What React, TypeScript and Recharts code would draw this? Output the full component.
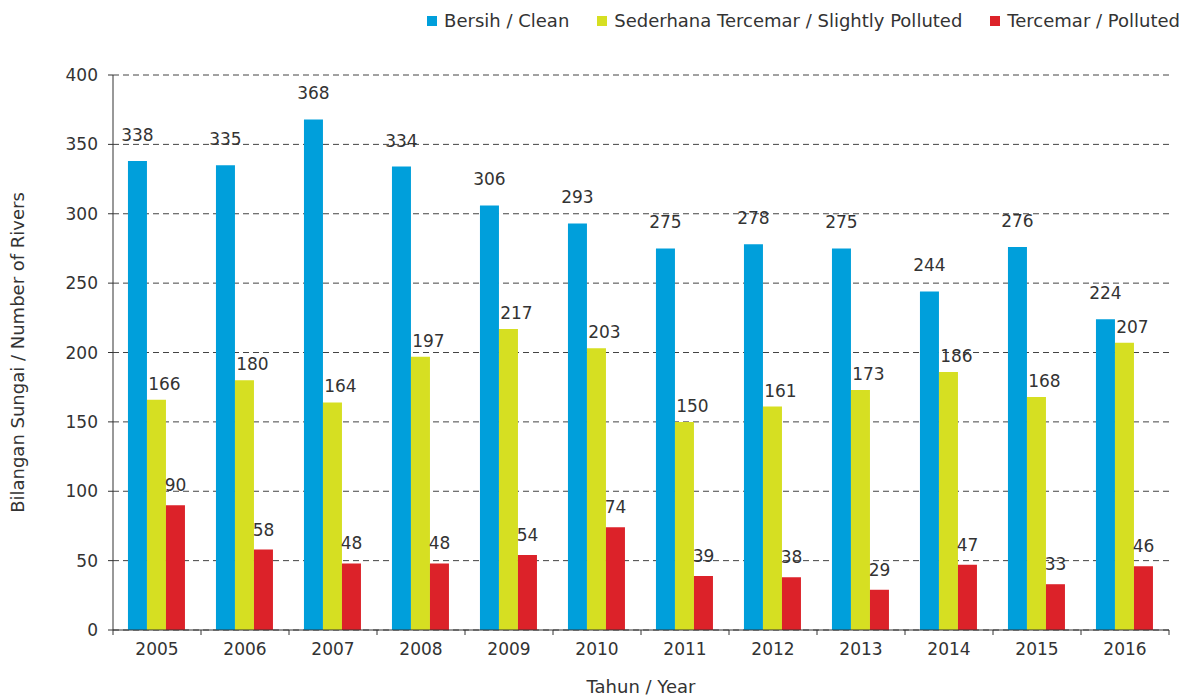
import { Bar, BarChart, CartesianGrid, LabelList, XAxis, YAxis } from "recharts";

const years = ["2005", "2006", "2007", "2008", "2009", "2010", "2011", "2012", "2013", "2014", "2015", "2016"];
const clean = [338, 335, 368, 334, 306, 293, 275, 278, 275, 244, 276, 224];
const slightlyPolluted = [166, 180, 164, 197, 217, 203, 150, 161, 173, 186, 168, 207];
const polluted = [90, 58, 48, 48, 54, 74, 39, 38, 29, 47, 33, 46];
const yTicks = [0, 50, 100, 150, 200, 250, 300, 350, 400];

const seriesInfo = [
  { key: "clean", name: "Bersih / Clean", color: "#009fdb", labelOffset: 20, labelDx: 0 },
  { key: "slight", name: "Sederhana Tercemar / Slightly Polluted", color: "#d6df22", labelOffset: 10, labelDx: 8 },
  { key: "polluted", name: "Tercemar / Polluted", color: "#dc2229", labelOffset: 14, labelDx: 0 },
];

const data = years.map((year, i) => ({
  year,
  clean: clean[i],
  slight: slightlyPolluted[i],
  polluted: polluted[i],
}));

const W = 1184;
const H = 697;
const margin = { top: 75, right: 15, bottom: 17, left: 13 };
const yAxisWidth = 100;
const plotWidth = W - margin.left - margin.right - yAxisWidth;
const band = plotWidth / years.length;

const FONT = "'DejaVu Sans', sans-serif";
const TEXT = "#333";

function YearTick(props: any) {
  const { x, y, payload, index } = props;
  const axisY = y - 13;
  return (
    <g>
      <line x1={x - band / 2} x2={x - band / 2} y1={axisY} y2={axisY + 5} stroke={TEXT} />
      {index === years.length - 1 && (
        <line x1={x + band / 2} x2={x + band / 2} y1={axisY} y2={axisY + 5} stroke={TEXT} />
      )}
      <text x={x} y={y} dy="0.71em" textAnchor="middle" fill={TEXT} fontSize={17} fontFamily={FONT}>
        {payload.value}
      </text>
    </g>
  );
}

function ChartLegend() {
  return (
    <div
      style={{
        position: "absolute",
        top: 10,
        right: 4,
        display: "flex",
        gap: 28,
        fontFamily: FONT,
        fontSize: 18,
        color: TEXT,
        whiteSpace: "nowrap",
      }}
    >
      {seriesInfo.map((s) => (
        <div key={s.key} style={{ display: "flex", alignItems: "center" }}>
          <span style={{ width: 10, height: 10, background: s.color, marginRight: 7, display: "inline-block" }} />
          {s.name}
        </div>
      ))}
    </div>
  );
}

export default function App() {
  return (
    <div style={{ position: "absolute", left: 0, top: 0, width: W, height: H, background: "#fff" }}>
      <BarChart width={W} height={H} data={data} margin={margin} barCategoryGap="17%" barGap={0}>
        <CartesianGrid vertical={false} stroke="#444" strokeDasharray="6 4" />
        <XAxis
          dataKey="year"
          axisLine={{ stroke: TEXT }}
          tickLine={false}
          tickSize={5}
          tickMargin={8}
          height={50}
          tick={<YearTick />}
          label={{ value: "Tahun / Year", position: "bottom", offset: 0, fill: TEXT, fontSize: 18, fontFamily: FONT }}
        />
        <YAxis
          domain={[0, 400]}
          ticks={yTicks}
          width={yAxisWidth}
          axisLine={{ stroke: TEXT }}
          tickLine={{ stroke: TEXT }}
          tickSize={5}
          tickMargin={10}
          tick={{ fill: TEXT, fontSize: 17, fontFamily: FONT }}
          label={{
            value: "Bilangan Sungai / Number of Rivers",
            angle: -90,
            position: "insideLeft",
            offset: 5,
            fill: TEXT,
            fontSize: 18,
            fontFamily: FONT,
            style: { textAnchor: "middle" },
          }}
        />
        {seriesInfo.map((s) => (
          <Bar key={s.key} dataKey={s.key} name={s.name} fill={s.color} isAnimationActive={false}>
            <LabelList
              dataKey={s.key}
              position="top"
              offset={s.labelOffset}
              dx={s.labelDx}
              fill={TEXT}
              fontSize={17}
              fontFamily={FONT}
            />
          </Bar>
        ))}
      </BarChart>
      <ChartLegend />
    </div>
  );
}
